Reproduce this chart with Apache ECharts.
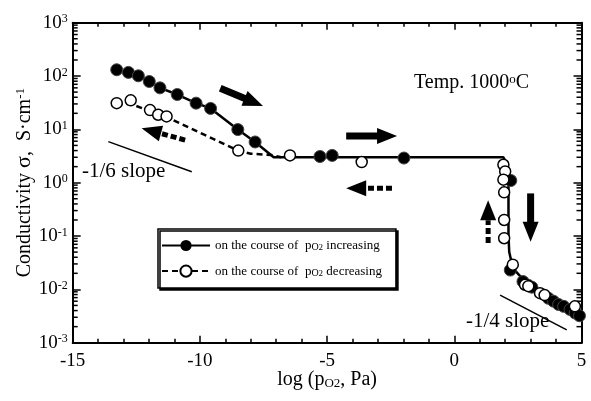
<!DOCTYPE html>
<html><head><meta charset="utf-8">
<script src="https://cdn.jsdelivr.net/npm/echarts@6/dist/echarts.min.js"></script>
<style>html,body{margin:0;padding:0;background:#fff}#c{width:591px;height:401px}</style>
</head><body><div id="c"></div>
<script>
// ---------- data ----------
const X_MIN = -15, X_MAX = 5, X_STEP = 5;
const Y_MIN = 0.001, Y_MAX = 1000;
const NAME_INC = 'on the course of pO2 increasing';
const NAME_DEC = 'on the course of pO2 decreasing';

// filled circles: p(O2) increasing
const incX = [-13.27,-12.81,-12.42,-11.99,-11.57,-10.89,-10.15,-9.58,-8.51,-7.83,
              -5.28,-4.80,-1.98, 2.22,
              2.20,2.70,2.90,3.05,3.70,3.90,4.10,4.30,4.55,4.75,4.92];
const incY = [131,117,101,79,60,45,31,24.7,9.9,5.8,
              3.1,3.25,2.9, 1.1,
              0.023,0.014,0.012,0.011,0.0068,0.006,0.0052,0.0048,0.0042,0.0036,0.0032];

// open circles: p(O2) decreasing
const decX = [-13.27,-12.72,-11.96,-11.64,-11.31,-8.49,-6.46,-3.64,
              1.93,2.00,1.93,1.96,1.96,1.96,
              2.30,2.78,2.91,3.37,3.55,4.74];
const decY = [31,35,23,18.8,17.5,4.0,3.25,2.44,
              2.17,1.63,1.14,0.66,0.20,0.091,
              0.029,0.0122,0.0115,0.0085,0.0078,0.0048];

// guide curves
const incLineX = [-13.27,-12.81,-12.42,-11.99,-11.57,-10.89,-10.15,-9.58,-8.51,-7.83,-7.1,1.93,2.08,2.13,2.13,2.16,2.3,2.85,3.76,4.42,4.94];
const incLineY = [131,117,101,79,60,45,31,24.7,9.9,5.8,3.0,3.0,2.2,1.0,0.1,0.05,0.025,0.013,0.0074,0.0051,0.0038];
const decLineX = [-13.27,-12.72,-11.96,-11.31,-8.49,-8.0,-7.2,-6.8];
const decLineY = [30,30,22,17,4.0,3.5,3.3,3.0];

// slope guides
const slope6X = [-13.6,-10.32], slope6Y = [5.9,1.6];
const slope4X = [1.8,4.42],     slope4Y = [0.0078,0.00174];

// arrows: tail x, tail y, head x, head y, dashed(1)/solid(0)
const arrowTailX = [-9.2,-4.25,-2.45,-10.58,1.33,3.0];
const arrowTailY = [59,7.5,0.79,6.3,0.074,0.63];
const arrowHeadX = [-7.52,-2.25,-4.25,-12.29,1.33,3.0];
const arrowHeadY = [27.4,7.5,0.79,10.5,0.47,0.078];
const arrowDashed = [0,0,1,1,1,0];

// ---------- build ----------
const FONT = '"Liberation Serif", "Times New Roman", serif';
const zip = (a,b) => a.map((v,i)=>[v,b[i]]);
const yMinor = [];
for (let e = -3; e < 3; e++) for (let m = 2; m <= 9; m++) yMinor.push(m*Math.pow(10,e));

const chart = echarts.init(document.getElementById('c'), null, {renderer:'canvas'});

const axisLineStyle = {color:'#000', width:2};
const xCommon = {
  type:'value', min:X_MIN, max:X_MAX, interval:X_STEP,
  axisLine:{lineStyle:axisLineStyle, onZero:false},
  axisTick:{inside:true, length:7, lineStyle:{color:'#000', width:1.5}},
  minorTick:{show:true, splitNumber:5, length:4, lineStyle:{color:'#000', width:1.5}},
  splitLine:{show:false}
};
const yCommon = {
  type:'log', logBase:10, min:Y_MIN, max:Y_MAX, splitNumber:6,
  axisLine:{lineStyle:axisLineStyle, onZero:false},
  axisTick:{inside:true, length:8, lineStyle:{color:'#000', width:1.5}},
  splitLine:{show:false}
};

const option = {
  animation:false,
  backgroundColor:'#fff',
  grid:{left:72.7, right:9.5, top:22.7, bottom:58.3, containLabel:false},
  xAxis:[
    Object.assign({}, xCommon, {
      position:'bottom',
      axisLabel:{margin:9, color:'#000', fontFamily:FONT, fontSize:19,
        formatter: v => String(v)},
      name:'{t|log (p}{s|O2}{t|, Pa)}', nameLocation:'middle', nameGap:27, nameMoveOverlap:false,
      nameTextStyle:{color:'#000', fontFamily:FONT, fontSize:20,
        rich:{t:{fontFamily:FONT, fontSize:20, color:'#000'},
              s:{fontFamily:FONT, fontSize:13, color:'#000', verticalAlign:'bottom'}}}
    }),
    Object.assign({}, xCommon, {position:'top', axisLabel:{show:false}})
  ],
  yAxis:[
    Object.assign({}, yCommon, {
      position:'left',
      axisLabel:{margin:5, color:'#000', fontFamily:FONT,
        formatter: v => '{b|10}{s|' + Math.round(Math.log10(v)) + '}',
        rich:{b:{fontFamily:FONT, fontSize:19, color:'#000'},
              s:{fontFamily:FONT, fontSize:12, color:'#000', verticalAlign:'top'}}},
      name:'{a|Conductivity }{g|σ}{a|,  S·cm}{s|-1}', nameLocation:'middle', nameRotate:90, nameGap:37, nameMoveOverlap:false,
      nameTextStyle:{color:'#000', fontFamily:FONT, fontSize:20,
        rich:{a:{fontFamily:FONT, fontSize:20, color:'#000'},
              g:{fontFamily:FONT, fontSize:22, color:'#000'},
              s:{fontFamily:FONT, fontSize:13, color:'#000', verticalAlign:'top'}}}
    }),
    Object.assign({}, yCommon, {position:'right', axisLabel:{show:false}})
  ],
  legend:{
    data:[NAME_INC, NAME_DEC],
    orient:'vertical', left:158, top:229,
    padding:[10,14,10,3], itemGap:12, itemWidth:48, itemHeight:14,
    backgroundColor:'#fff', borderColor:'#000', borderWidth:1.5, borderRadius:0,
    shadowColor:'#000', shadowBlur:0, shadowOffsetX:2, shadowOffsetY:2,
    selectedMode:false,
    formatter: n => n === NAME_INC
      ? '{t|on the course of  p}{o|O}{s|2}{t| increasing}'
      : '{t|on the course of  p}{o|O}{s|2}{t| decreasing}',
    textStyle:{color:'#000', fontFamily:FONT, fontSize:13,
      rich:{t:{fontFamily:FONT, fontSize:13, color:'#000'},
            o:{fontFamily:FONT, fontSize:10, color:'#000', verticalAlign:'bottom'},
            s:{fontFamily:FONT, fontSize:9, color:'#000', verticalAlign:'bottom', padding:[5,0,0,0]}}}
  },
  graphic:[
    {type:'text', left:414, top:73, style:{text:'{t|Temp. 1000}{s|o}{t|C}', fill:'#000',
      rich:{t:{fontFamily:FONT, fontSize:20, fill:'#000'}, s:{fontFamily:FONT, fontSize:13, fill:'#000', verticalAlign:'top'}}}},
    {type:'text', left:82, top:161, style:{text:'-1/6 slope', fill:'#000', font:'21px "Liberation Serif"'}},
    {type:'text', left:466, top:311, style:{text:'-1/4 slope', fill:'#000', font:'21px "Liberation Serif"'}}
  ],
  series:[
    {name:'yMinorTicks', type:'custom', silent:true, z:1,
     data: yMinor.map(v=>[X_MIN, v]),
     renderItem:(params, api)=>{
       const cs = params.coordSys;
       const p = api.coord([api.value(0), api.value(1)]);
       const st = {stroke:'#000', lineWidth:1.5};
       return {type:'group', children:[
         {type:'line', shape:{x1:cs.x, y1:p[1], x2:cs.x+5, y2:p[1]}, style:st},
         {type:'line', shape:{x1:cs.x+cs.width-5, y1:p[1], x2:cs.x+cs.width, y2:p[1]}, style:st}
       ]};
     }},
    {name:NAME_INC, type:'line', data:zip(incLineX, incLineY), showSymbol:false, symbol:'circle',
     lineStyle:{color:'#000', width:2.5}, itemStyle:{color:'#000', borderColor:'#000'}, z:3, silent:true},
    {name:NAME_DEC, type:'line', data:zip(decLineX, decLineY), showSymbol:false, symbol:'circle',
     lineStyle:{color:'#000', width:2.5, type:[6,4]},
     itemStyle:{color:'#fff', borderColor:'#000', borderWidth:1.5}, z:3, silent:true},
    {name:'slope6', type:'line', data:zip(slope6X, slope6Y), showSymbol:false, lineStyle:{color:'#000', width:1.5}, silent:true},
    {name:'slope4', type:'line', data:zip(slope4X, slope4Y), showSymbol:false, lineStyle:{color:'#000', width:1.5}, silent:true},
    {name:'incPoints', type:'scatter', data:zip(incX, incY), symbol:'circle', symbolSize:12,
     itemStyle:{color:'#000', borderColor:'#444', borderWidth:1, opacity:1}, z:4, silent:true},
    {name:'decPoints', type:'scatter', data:zip(decX, decY), symbol:'circle', symbolSize:11,
     itemStyle:{color:'#fff', borderColor:'#000', borderWidth:1.5, opacity:1}, z:5, silent:true},
    {name:'arrows', type:'custom', silent:true, z:6,
     data: arrowTailX.map((v,i)=>[v, arrowTailY[i], arrowHeadX[i], arrowHeadY[i], arrowDashed[i]]),
     encode:{x:[0,2], y:[1,3]},
     renderItem:(params, api)=>{
       const p1 = api.coord([api.value(0), api.value(1)]);
       const p2 = api.coord([api.value(2), api.value(3)]);
       const dashed = api.value(4) === 1;
       const dx = p2[0]-p1[0], dy = p2[1]-p1[1], L = Math.hypot(dx,dy);
       const ux = dx/L, uy = dy/L, nx = -uy, ny = ux;
       const hl = 20, hw = 8, sw = dashed ? 2.5 : 3.5;
       const b = [p2[0]-ux*hl, p2[1]-uy*hl];
       const children = [{type:'polygon', shape:{points:[p2, [b[0]+nx*hw, b[1]+ny*hw], [b[0]-nx*hw, b[1]-ny*hw]]}, style:{fill:'#000'}}];
       if (!dashed) {
         children.push({type:'polygon', shape:{points:[[p1[0]+nx*sw,p1[1]+ny*sw],[b[0]+ux+nx*sw,b[1]+uy+ny*sw],[b[0]+ux-nx*sw,b[1]+uy-ny*sw],[p1[0]-nx*sw,p1[1]-ny*sw]]}, style:{fill:'#000'}});
       } else {
         children.push({type:'line', shape:{x1:p1[0], y1:p1[1], x2:b[0], y2:b[1]}, style:{stroke:'#000', lineWidth:sw*2, lineDash:[6,3]}});
       }
       return {type:'group', children};
     }}
  ]
};
chart.setOption(option);
</script>
</body></html>
